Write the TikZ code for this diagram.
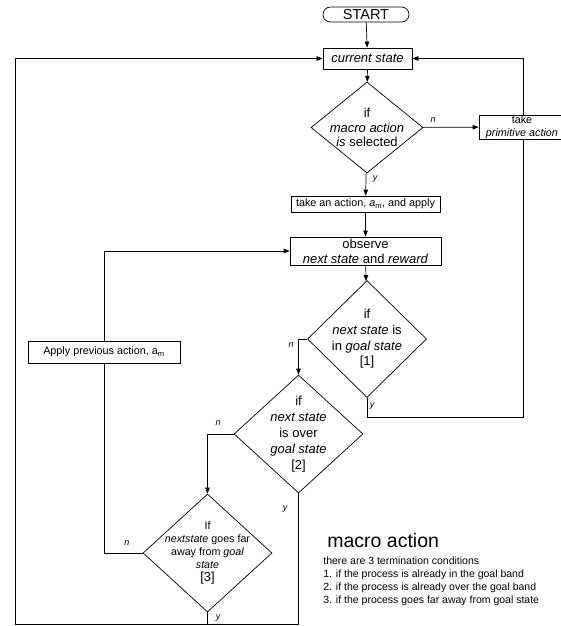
\documentclass[tikz,border=0pt]{standalone}
\usepackage{fontspec}
\setmainfont{Liberation Sans}
\usetikzlibrary{shapes.geometric,arrows.meta}
\newcommand{\fsz}[2]{\fontsize{#1}{#2}\selectfont}
\begin{document}
\begin{tikzpicture}[x=1pt,y=-1pt,
    line width=0.7pt,
    >={Triangle[length=6pt,width=4.5pt]},
    box/.style={draw,rectangle,inner sep=0pt,align=center},
    cond/.style={draw,diamond,inner sep=0pt},
    ctext/.style={align=center,inner sep=0pt},
    yn/.style={font=\fsz{9}{9}\itshape,inner sep=0pt}]
\useasboundingbox (0,0) rectangle (560,626);
% main column
\node[box,rounded corners=7.5pt,minimum width=86pt,minimum height=15pt,font=\fsz{14.5}{15}] (start) at (366,14.5) {START};
\node[box,minimum width=89pt,minimum height=21pt,font=\fsz{13}{15}\itshape] (cur) at (367.5,58.5) {current state};
\node[cond,minimum width=112pt,minimum height=91pt] (dmacro) at (367,127.5) {};
\node[ctext,font=\fsz{13}{14.5}] (dmacro-txt) at (dmacro) {if\\ \textit{macro action}\\ \textit{is} selected};
\node[box,minimum width=86pt,minimum height=24pt,font=\fsz{10.8}{13}] (prim) at (522,127) {take\\ \textit{primitive action}};
\node[box,minimum width=149pt,minimum height=16pt,font=\fsz{10.8}{13}] (take) at (365.5,204) {take an action, \textit{a}\textsubscript{m}, and apply};
\node[box,minimum width=151pt,minimum height=28pt,font=\fsz{13}{15}] (observe) at (365.5,251) {observe\\ \textit{next state} and \textit{reward}};
\node[box,minimum width=152pt,minimum height=22pt,font=\fsz{10.8}{13}] (apply) at (104,352) {Apply previous action, a\textsubscript{m}};
% termination tests
\node[cond,minimum width=119pt,minimum height=117pt] (dgoal) at (367,339) {};
\node[ctext,font=\fsz{13}{15.7}] (dgoal-txt) at (dgoal) {if\\ \textit{next state} is\\ in \textit{goal state}\\ {[1]}};
\node[cond,minimum width=129pt,minimum height=118pt] (dover) at (298.5,434) {};
\node[ctext,font=\fsz{13}{16}] (dover-txt) at (dover) {if\\ \textit{next state}\\ is over\\ \textit{goal state}\\ {[2]}};
\node[cond,minimum width=129pt,minimum height=118pt] (dfar) at (207.5,553) {};
\node[ctext,font=\fsz{10.7}{13.2}] (dfar-txt) at (dfar) {If\\ \textit{nextstate} goes far\\ away from \textit{goal}\\ \textit{state}\\ {\fsz{13}{15}[3]}};
% connectors
\coordinate (rline) at (523,417);
\coordinate (bl) at (15,624);
\draw[->] (start) -- (cur);
\draw[->] (cur) -- (dmacro);
\draw[->] (dmacro) -- (prim);
\draw[->] (dmacro) -- (take);
\draw[->] (take) -- (observe);
\draw[->] (observe) -- (dgoal);
\draw[->] (dgoal.west) -| (dover.north);
\draw[->] (dover.west) -| (dfar.north);
\draw (dfar.west) -| (apply.south);
\draw[->] (apply.north) |- (observe.west);
\draw (dgoal.south) |- (rline) -- (rline |- prim.south);
\draw[->] (rline |- prim.north) |- (cur.east);
\draw[->] (dover.south) |- (bl) |- (cur.west);
\draw (dfar.south) -- (dfar.south |- bl);
% y / n labels
\node[yn] (n1) at (433,120) {n};
\node[yn] (y1) at (375,179) {y};
\node[yn] (n2) at (291,345) {n};
\node[yn] (y2) at (372,406) {y};
\node[yn] (n3) at (218,423) {n};
\node[yn] (y3) at (285,509) {y};
\node[yn] (n4) at (127,543) {n};
\node[yn] (y4) at (218,618) {y};
% notes
\node[anchor=base west,inner sep=0pt,font=\fsz{19.5}{22}] (title) at (327,547) {macro action};
\node[anchor=base west,inner sep=0pt,align=left,font=\fsz{10.5}{12.8}] (notes) at (323,603) {there are 3 termination conditions\\
1. if the process is already in the goal band\\
2. if the process is already over the goal band\\
3. if the process goes far away from goal state};
\end{tikzpicture}
\end{document}
